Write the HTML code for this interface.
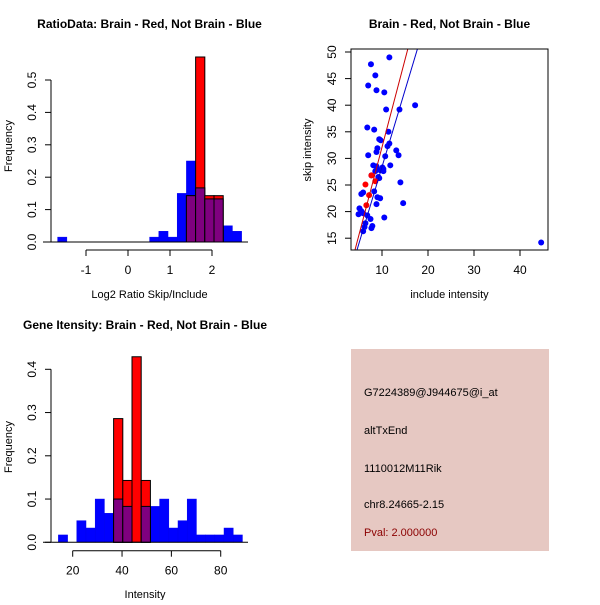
<!DOCTYPE html>
<html><head><meta charset="utf-8"><style>
html,body{margin:0;padding:0;background:#fff}
svg text{font-family:"Liberation Sans",sans-serif;fill:#000}
</style></head><body>
<svg id="root" width="600" height="600" xmlns="http://www.w3.org/2000/svg">
<rect x="0" y="0" width="600" height="600" fill="#fff"/>
<g id="p1"></g>
<g id="p2"></g>
<g id="p3"></g>
<g>
<rect x="351" y="349" width="198" height="202" fill="#e6c8c2"/>
<text x="364" y="396" font-size="11">G7224389@J944675@i_at</text>
<text x="364" y="434" font-size="11">altTxEnd</text>
<text x="364" y="472" font-size="11">1110012M11Rik</text>
<text x="364" y="508" font-size="11">chr8.24665-2.15</text>
<text x="364" y="536" font-size="11" style="fill:#8b0000">Pval: 2.000000</text>
</g>
</svg>
<script>
// ---- Plot 1 data: log2 ratio histogram ----
const h1Start = -1.675, h1Width = 0.219;
const h1Blue = [0.015,0,0,0,0,0,0,0,0,0,0.015,0.033,0.015,0.15,0.25,0.167,0.133,0.133,0.05,0.033];
const h1Red  = [0,0,0,0,0,0,0,0,0,0,0,0,0,0,0.143,0.571,0.143,0.143,0,0];
const h1XTicks = [-1,0,1,2];
const h1YTicks = [0,0.1,0.2,0.3,0.4,0.5];
// ---- Plot 2 data: scatter ----
const scBlueX = [11.6,7.6,8.55,7.0,8.8,10.5,17.2,10.9,13.8,6.8,8.3,11.4,9.4,9.7,11.6,9.0,11.2,13.1,8.8,7.0,13.6,10.7,8.1,8.8,11.8,10.1,10.3,9.6,8.55,7.7,9.4,10.3,9.2,14.0,8.3,5.9,5.5,9.0,9.6,8.8,14.6,5.1,4.9,5.5,5.9,6.8,7.5,10.5,6.4,6.2,7.7,7.9,5.9,44.6];
const scBlueY = [49.0,47.7,45.6,43.7,42.8,42.4,40.0,39.2,39.2,35.8,35.4,35.0,33.6,33.4,32.8,31.9,32.3,31.5,31.2,30.6,30.6,30.4,28.7,28.5,28.7,28.3,28.0,27.8,27.6,26.8,26.3,27.6,26.5,25.5,23.8,23.6,23.3,22.7,22.5,21.4,21.6,20.6,19.5,20.1,19.7,19.3,18.6,18.9,17.8,17.1,16.9,17.3,16.3,14.2];
const scRedX = [6.4,7.2,6.6,7.7,8.55];
const scRedY = [25.1,23.1,21.2,26.8,25.7];
const fitRed = [-0.79, 3.29];   // intercept, slope
const fitBlue = [-0.34, 2.876];
const scXTicks = [10,20,30,40];
const scYTicks = [15,20,25,30,35,40,45,50];
// ---- Plot 3 data: intensity histogram ----
const h3Start = 14.2, h3Width = 3.73;
const h3Blue = [0.017,0,0.05,0.033,0.1,0.067,0.1,0.083,0,0.083,0.083,0.1,0.033,0.05,0.1,0.017,0.017,0.017,0.033,0.017];
const h3Red  = [0,0,0,0,0,0,0.286,0.143,0.429,0.143,0,0,0,0,0,0,0,0,0,0];
const h3XTicks = [20,40,60,80];
const h3YTicks = [0,0.1,0.2,0.3,0.4];

const NS='http://www.w3.org/2000/svg';
function mk(parent,tag,attrs,txt){const e=document.createElementNS(NS,tag);for(const k in attrs)e.setAttribute(k,attrs[k]);if(txt!==undefined)e.textContent=txt;parent.appendChild(e);return e;}

function axes(g,o){
  // x axis
  const xa=mk(g,'g',{});
  
  
  const xt=o.xTicks;
  mk(xa,'line',{x1:o.sx(xt[0]),x2:o.sx(xt[xt.length-1]),y1:o.xAxisY,y2:o.xAxisY,stroke:'#000'});
  xt.forEach(v=>{const x=o.sx(v);
    mk(xa,'line',{x1:x,x2:x,y1:o.xAxisY,y2:o.xAxisY+6,stroke:'#000'});
    const t=mk(xa,'text',{x:x,y:o.xAxisY+24,'font-size':12,'text-anchor':'middle'},String(v));
    
    
  });
  const ya=mk(g,'g',{});
  
  
  const yt=o.yTicks;
  mk(ya,'line',{x1:o.yAxisX,x2:o.yAxisX,y1:o.sy(yt[0]),y2:o.sy(yt[yt.length-1]),stroke:'#000'});
  yt.forEach(v=>{const y=o.sy(v);
    mk(ya,'line',{x1:o.yAxisX-6,x2:o.yAxisX,y1:y,y2:y,stroke:'#000'});
    const lx=o.yAxisX-15;
    const t=mk(ya,'text',{x:lx,y:y,'font-size':12,'text-anchor':'middle',transform:`rotate(-90 ${lx} ${y})`},o.fmt(v));
    
    
  });
  const ti=mk(g,'text',{x:o.cx,y:o.titleY,'font-size':12,'font-weight':'bold','text-anchor':'middle'},o.title);
  
  
  const xl=mk(g,'text',{x:o.cx,y:o.xLabY,'font-size':11,'text-anchor':'middle'},o.xLab);
  
  
  const yl=mk(g,'text',{x:o.yLabX,y:o.cy,'font-size':11,'text-anchor':'middle',transform:`rotate(-90 ${o.yLabX} ${o.cy})`},o.yLab);
  
  
}

function hist(g,start,w,blue,red,sx,sy){
  const y0=sy(0);
  blue.forEach((v,i)=>{ if(v<=0) return;
    const x1=sx(start+i*w),x2=sx(start+(i+1)*w);
    const r=mk(g,'rect',{x:x1,y:sy(v),width:x2-x1,height:y0-sy(v),fill:'#0000ff',stroke:'#0000ee','stroke-width':0.5});
    
    
  });
  red.forEach((v,i)=>{ if(v<=0) return;
    const x1=sx(start+i*w),x2=sx(start+(i+1)*w);
    const r=mk(g,'rect',{x:x1,y:sy(v),width:x2-x1,height:y0-sy(v),fill:'#ff0000',stroke:'#000','stroke-width':1});
    
    
    const m=Math.min(v,blue[i]);
    if(m>0){
      const p=mk(g,'rect',{x:x1,y:sy(m),width:x2-x1,height:y0-sy(m),fill:'#7f007f',stroke:'#000','stroke-width':1});
      
      
    }
  });
}

// Plot 1
(function(){
  const g=document.getElementById('p1');
  const sx=v=>128+v*42, sy=v=>242-v*324;
  hist(g,h1Start,h1Width,h1Blue,h1Red,sx,sy);
  mk(g,'line',{x1:43,x2:248,y1:242,y2:242,stroke:'#000'});
  axes(g,{sx,sy,xTicks:h1XTicks,yTicks:h1YTicks,xAxisY:250,yAxisX:51,fmt:v=>v.toFixed(1),
    title:'RatioData: Brain - Red, Not Brain - Blue',cx:149.5,titleY:28,xLab:'Log2 Ratio Skip/Include',xLabY:298,yLab:'Frequency',yLabX:12,cy:146});
})();

// Plot 2
(function(){
  const g=document.getElementById('p2');
  const sx=v=>382+(v-10)*4.6, sy=v=>52+(50-v)*5.32;
  const x0=351,x1=548,y0=49,y1=250;
  const cp=mk(g,'clipPath',{id:'clip2'});mk(cp,'rect',{x:x0,y:y0,width:x1-x0,height:y1-y0});
  const pts=mk(g,'g',{});
  scBlueX.forEach((x,i)=>{const c=mk(pts,'circle',{cx:sx(x),cy:sy(scBlueY[i]),r:3,fill:'#0000ff'});
    
    });
  scRedX.forEach((x,i)=>{const c=mk(pts,'circle',{cx:sx(x),cy:sy(scRedY[i]),r:3,fill:'#ff0000'});
    
    });
  const lg=mk(g,'g',{'clip-path':'url(#clip2)'});
  [[fitRed,'#cc0000','fit-line-red'],[fitBlue,'#0000cc','fit-line-blue']].forEach(([f,c,n])=>{
    const ya=0,yb=60;
    const l=mk(lg,'line',{x1:sx((ya-f[0])/f[1]),y1:sy(ya),x2:sx((yb-f[0])/f[1]),y2:sy(yb),stroke:c,'stroke-width':1});
    
    
  });
  mk(g,'rect',{x:x0,y:y0,width:x1-x0,height:y1-y0,fill:'none',stroke:'#000'});
  axes(g,{sx,sy,xTicks:scXTicks,yTicks:scYTicks,xAxisY:250,yAxisX:351,fmt:v=>String(v),
    title:'Brain - Red, Not Brain - Blue',cx:449.5,titleY:28,xLab:'include intensity',xLabY:298,yLab:'skip intensity',yLabX:311,cy:150});
})();

// Plot 3
(function(){
  const g=document.getElementById('p3');
  const sx=v=>72.7+(v-20)*2.467, sy=v=>542.3-v*432.5;
  hist(g,h3Start,h3Width,h3Blue,h3Red,sx,sy);
  mk(g,'line',{x1:43,x2:248,y1:542.3,y2:542.3,stroke:'#000'});
  axes(g,{sx,sy,xTicks:h3XTicks,yTicks:h3YTicks,xAxisY:550.7,yAxisX:51,fmt:v=>v.toFixed(1),
    title:'Gene Itensity: Brain - Red, Not Brain - Blue',cx:145,titleY:329,xLab:'Intensity',xLabY:598,yLab:'Frequency',yLabX:12,cy:447});
})();
</script>
</body></html>
